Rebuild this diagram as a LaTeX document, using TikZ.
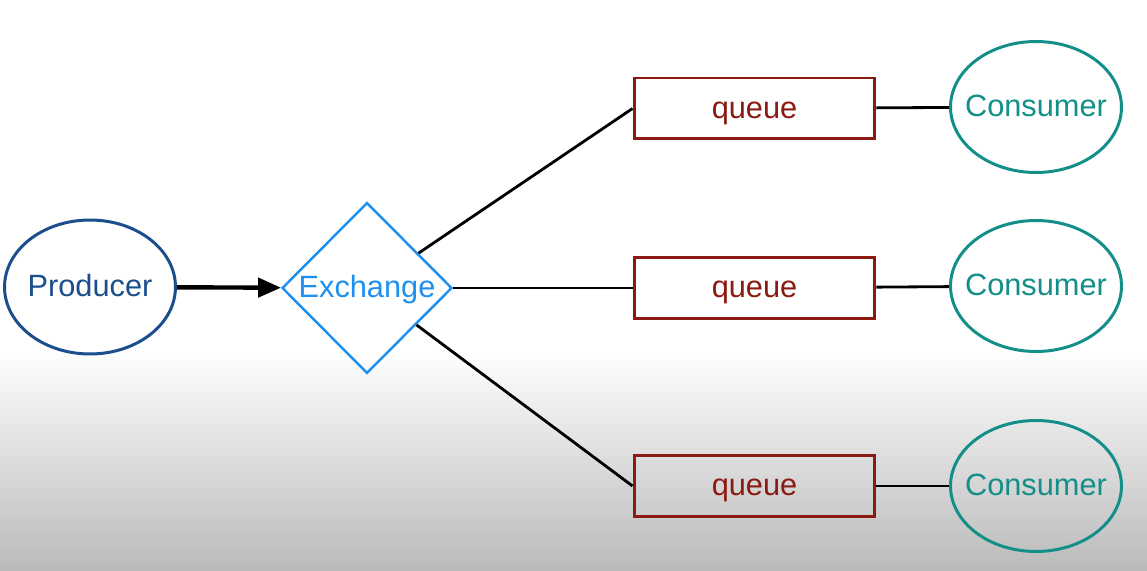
\documentclass[tikz,border=0pt]{standalone}
\usepackage{fontspec}
\setmainfont{Liberation Sans}
\usetikzlibrary{arrows.meta,shapes}

\begin{document}
\begin{tikzpicture}[x=0.02cm, y=-0.02cm,
		every node/.style={font=\fontsize{17.5}{20}\selectfont, inner sep=0pt, text height=14pt, text depth=3pt},
		prod/.style={ellipse, draw=color1, text=color1, line width=1.7pt, inner xsep=-0.06cm, minimum width=3.42cm, minimum height=2.68cm},
		exch/.style={diamond, draw=color2, text=color2, line width=1.4pt, minimum width=3.4cm, minimum height=3.42cm},
		queue/.style={rectangle, draw=color3, text=color3, line width=1.7pt, minimum width=4.82cm, minimum height=1.22cm},
		cons/.style={ellipse, draw=color4, text=color4, line width=1.7pt, inner xsep=-0.22cm, minimum width=3.42cm, minimum height=2.62cm},
		link/.style={draw=black, line width=1.6pt}]
				\definecolor{color1}{HTML}{1A4E8C} %% producer
				\definecolor{color2}{HTML}{1E90F0} %% exchange
				\definecolor{color3}{HTML}{8B1A12} %% queues
				\definecolor{color4}{HTML}{138F8A} %% consumers
				%% Background ------
				\useasboundingbox (0,0) rectangle (1147,571);
				\fill[white] (0,0) rectangle (1147,571);
				\shade[top color=white, bottom color=black!27] (0,350) rectangle (1147,571);
				%% Vertices ------
				\node[prod] (producer) at (90,287) {Producer};
				\node[exch] (exchange) at (367,288) {Exchange};
				\node[queue] (q1) at (754.5,108.5) {queue};
				\node[queue] (q2) at (754.5,288) {queue};
				\node[queue] (q3) at (754.5,486) {queue};
				\node[cons] (c1) at (1036,107) {Consumer};
				\node[cons] (c2) at (1036,286) {Consumer};
				\node[cons] (c3) at (1036,486) {Consumer};
				%% Edges ---------
				\draw[link, line width=2.5pt, -{Triangle[length=0.46cm, width=0.38cm]}] (producer) -- (exchange);
				\draw[link] (exchange) -- (q1.west);
				\draw[link] (exchange) -- (q2.west);
				\draw[link] (exchange) -- (q3.west);
				\draw[link] (q1) -- (c1);
				\draw[link] (q2) -- (c2);
				\draw[link] (q3) -- (c3);
\end{tikzpicture}
\end{document}
